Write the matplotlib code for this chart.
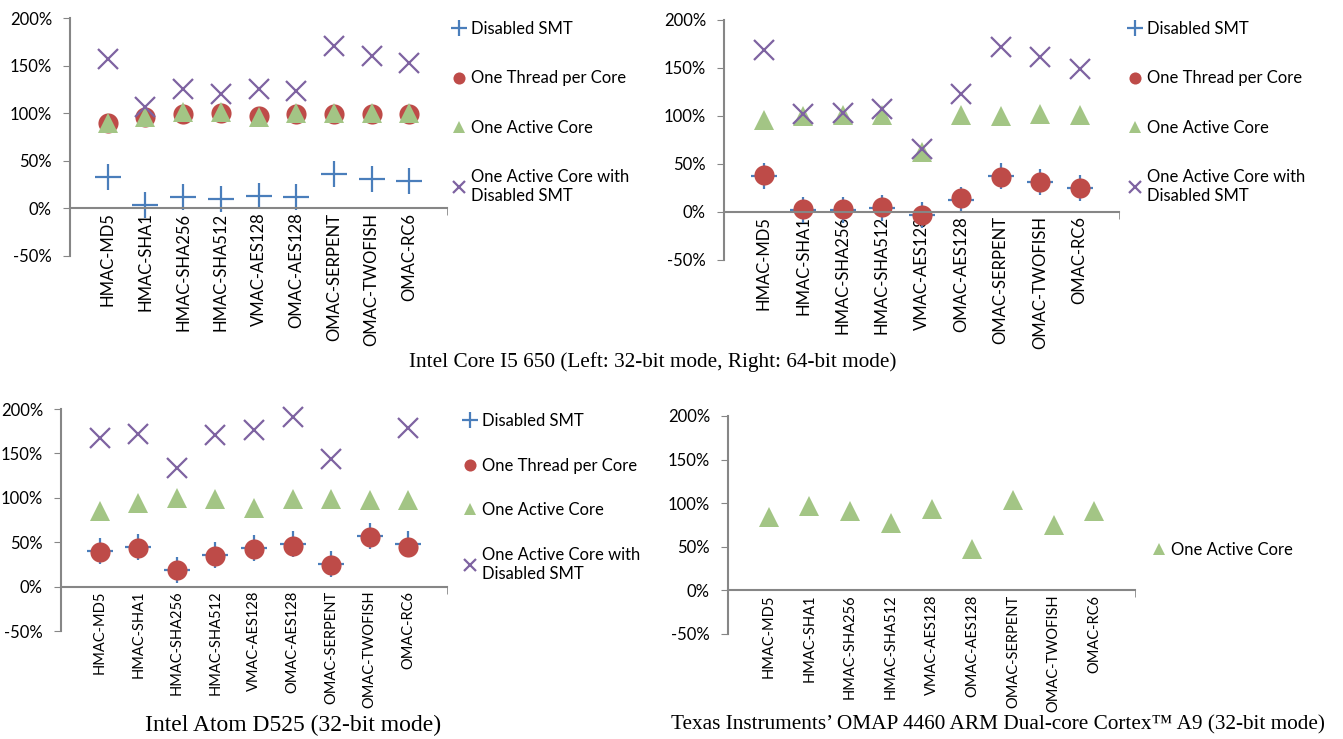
import numpy as np
import matplotlib
matplotlib.use("Agg")
import matplotlib.pyplot as plt

plt.rcParams['font.family'] = ['Lato', 'DejaVu Sans']

# benchmark names (same on every panel)
algos = ['HMAC-MD5', 'HMAC-SHA1', 'HMAC-SHA256', 'HMAC-SHA512', 'VMAC-AES128',
         'OMAC-AES128', 'OMAC-SERPENT', 'OMAC-TWOFISH', 'OMAC-RC6']

series_names = ['Disabled SMT', 'One Thread per Core', 'One Active Core',
                'One Active Core with\nDisabled SMT']

# Intel Core I5 650, 32-bit mode (percent)
i5_32_smt = [33, 4, 12, 10, 13, 12, 36, 31, 29]
i5_32_thread = [90, 96, 99, 100, 97, 99, 99, 99, 99]
i5_32_core = [90, 96, 101, 101, 96, 100, 100, 100, 100]
i5_32_core_smt = [157, 106, 125, 120, 125, 123, 171, 160, 153]

# Intel Core I5 650, 64-bit mode
i5_64_smt = [38, 2, 2, 4, -3, 12, 37, 31, 25]
i5_64_thread = [39, 3, 3, 5, -3, 15, 36, 31, 25]
i5_64_core = [96, 100, 101, 101, 63, 101, 100, 102, 101]
i5_64_core_smt = [169, 102, 103, 107, 66, 123, 172, 161, 149]

# Intel Atom D525, 32-bit mode
atom_smt = [40, 45, 19, 36, 43, 48, 25, 57, 48]
atom_thread = [39, 44, 19, 35, 42, 46, 24, 56, 45]
atom_core = [85, 94, 100, 99, 88, 99, 99, 98, 97]
atom_core_smt = [167, 172, 134, 171, 176, 191, 144, np.nan, 179]

# TI OMAP 4460, 32-bit mode
omap_core = [84, 97, 91, 77, 93, 47, 104, 75, 91]

colors = ['#4a7ebb', '#be4b48', '#a3c585', '#7e63a1']
markers = ['+', 'o', '^', 'x']
msizes = [19, 14.5, 15, 14]

W, H = 1343, 739
fig = plt.figure(figsize=(W / 100, H / 100), dpi=100)


def add_panel(rect_px, data, legend_px, xfs=12, lspace=2.0):
    x0, y_top, x1, y_bot = rect_px
    ax = fig.add_axes([x0 / W, 1 - y_bot / H, (x1 - x0) / W, (y_bot - y_top) / H])
    # spine first: moving it resets the tick objects
    ax.spines['bottom'].set_position(('data', 0))
    xs = np.arange(1, len(algos) + 1)
    handles = []
    for i, vals in enumerate(data):
        if vals is None:
            continue
        h, = ax.plot(xs, vals, linestyle='none', marker=markers[i],
                     markersize=msizes[i], color=colors[i],
                     markeredgewidth=1.6 if markers[i] in '+x' else 0,
                     label=series_names[i], clip_on=False)
        handles.append(h)
    ax.set_xlim(0, 10)
    ax.set_ylim(-50, 200)
    ax.set_yticks([-50, 0, 50, 100, 150, 200])
    ax.set_yticklabels(['%d%%' % v for v in [-50, 0, 50, 100, 150, 200]])
    ax.set_xticks([5, 10], minor=True)
    ax.set_xticks(xs)
    ax.set_xticklabels(algos, rotation=90, va='top', ha='center', fontsize=xfs)
    ax.tick_params(axis='x', which='major', length=0, pad=3)
    ax.tick_params(axis='x', which='minor', length=5, color='#868686', direction='out')
    ax.tick_params(axis='y', length=5, color='#868686', labelsize=12, pad=8)
    for s in ['top', 'right']:
        ax.spines[s].set_visible(False)
    for s in ['left', 'bottom']:
        ax.spines[s].set_color('#868686')
        ax.spines[s].set_linewidth(1.5)
    lx, ly = legend_px
    ax.legend(handles=handles, loc='upper left', bbox_to_anchor=(lx / W, 1 - ly / H),
              bbox_transform=fig.transFigure, frameon=False, fontsize=12,
              markerscale=0.6, handlelength=0.8, handletextpad=0.35,
              labelspacing=lspace, borderpad=0, borderaxespad=0)
    return ax


add_panel((70, 18, 447, 256),
          [i5_32_smt, i5_32_thread, i5_32_core, i5_32_core_smt], (452, 21))
add_panel((724, 20, 1119, 260),
          [i5_64_smt, i5_64_thread, i5_64_core, i5_64_core_smt], (1128, 21))
add_panel((61, 409, 447, 631),
          [atom_smt, atom_thread, atom_core, atom_core_smt], (463, 413),
          xfs=10.5, lspace=1.72)
add_panel((728, 416, 1135, 634),
          [None, None, omap_core, None], (1152, 542), xfs=10.5)

fig.text(653 / W, 1 - 362 / H, 'Intel Core I5 650 (Left: 32-bit mode, Right: 64-bit mode)',
         ha='center', va='center', fontsize=15.3, family='Liberation Serif')
fig.text(293 / W, 1 - 725 / H, 'Intel Atom D525 (32-bit mode)',
         ha='center', va='center', fontsize=17, family='Liberation Serif')
fig.text(998 / W, 1 - 725 / H,
         'Texas Instruments\u2019 OMAP 4460 ARM Dual-core Cortex\u2122 A9 (32-bit mode)',
         ha='center', va='center', fontsize=15.3, family='Liberation Serif')

fig.savefig('out.png', dpi=100)
